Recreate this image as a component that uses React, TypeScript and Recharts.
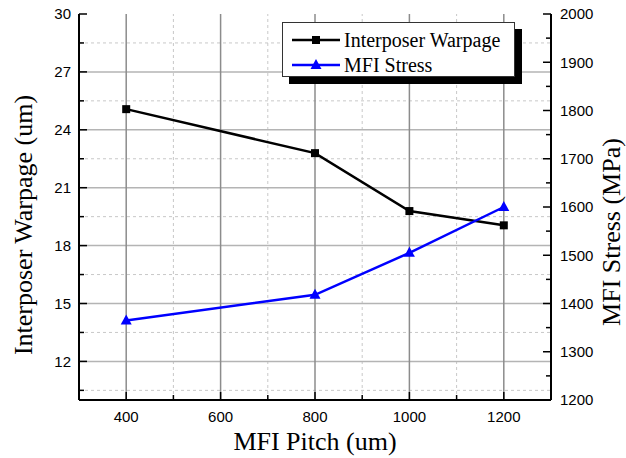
import React from 'react';
import {
    LineChart,
    Line,
    XAxis,
    YAxis,
    ReferenceLine,
    Legend,
    Customized,
} from 'recharts';

// MFI pitch (um) and the two measured series
const pitch = [400, 800, 1000, 1200];
const warpage = [25.07, 22.79, 19.79, 19.05];
const stress = [1365, 1418, 1505, 1600];

// Tick positions (major + minor)
const xTicks = [400, 500, 600, 700, 800, 900, 1000, 1100, 1200];
const xMajor = [400, 600, 800, 1000, 1200];
const xMinor = [500, 700, 900, 1100];
const leftTicks = [10.5, 12, 13.5, 15, 16.5, 18, 19.5, 21, 22.5, 24, 25.5, 27, 28.5, 30];
const leftMajor = [12, 15, 18, 21, 24, 27];
const leftMinor = [10.5, 13.5, 16.5, 19.5, 22.5, 25.5, 28.5];
const rightTicks = [1250, 1300, 1350, 1400, 1450, 1500, 1550, 1600, 1650, 1700, 1750, 1800, 1850, 1900, 1950, 2000, 1200];

const SERIF = '"Liberation Serif", "Times New Roman", serif';
const SANS = '"Liberation Sans", Arial, sans-serif';
const TICK_FONT = { fontFamily: SANS, fontSize: 15, fill: '#000' };

const chartData = pitch.map((p, i) => ({ pitch: p, warpage: warpage[i], stress: stress[i] }));

const isMult = (v: number, step: number) => Math.abs(v / step - Math.round(v / step)) < 1e-6;

const BottomTick = (props: any) => {
    const { x, y, payload } = props;
    const major = isMult(payload.value, 200);
    return (
        <g>
            <line x1={x} y1={y} x2={x} y2={y - (major ? 8 : 5)} stroke="#000" strokeWidth={1.5} />
            {major && (
                <text x={x} y={y + 22} textAnchor="middle" {...TICK_FONT}>
                    {payload.value}
                </text>
            )}
        </g>
    );
};

const LeftTick = (props: any) => {
    const { x, y, payload } = props;
    const major = isMult(payload.value, 3);
    return (
        <g>
            <line x1={x} y1={y} x2={x + (major ? 8 : 5)} y2={y} stroke="#000" strokeWidth={1.5} />
            {major && (
                <text x={x - 8} y={y} dy="0.35em" textAnchor="end" {...TICK_FONT}>
                    {payload.value}
                </text>
            )}
        </g>
    );
};

const RightTick = (props: any) => {
    const { x, y, payload } = props;
    const major = isMult(payload.value, 100);
    return (
        <g>
            <line x1={x} y1={y} x2={x - (major ? 8 : 5)} y2={y} stroke="#000" strokeWidth={1.5} />
            {major && (
                <text x={x + 9} y={y} dy="0.35em" textAnchor="start" {...TICK_FONT}>
                    {payload.value}
                </text>
            )}
        </g>
    );
};

const SquareDot = (props: any) => {
    const { cx, cy } = props;
    if (cx == null || cy == null) return null;
    return <rect x={cx - 4} y={cy - 4} width={8} height={8} fill="#000" />;
};

const TriangleDot = (props: any) => {
    const { cx, cy } = props;
    if (cx == null || cy == null) return null;
    return <path d={`M${cx},${cy - 6} L${cx + 5.5},${cy + 4} L${cx - 5.5},${cy + 4} Z`} fill="#0000ff" />;
};

const LegendBox = () => (
    <div
        style={{
            width: 231,
            height: 53,
            background: '#fff',
            border: '1px solid #333',
            boxShadow: '7px 7px 0 #000',
            fontFamily: SERIF,
            fontSize: 20,
            color: '#000',
            position: 'relative',
        }}
    >
        {[
            { name: 'Interposer Warpage', color: '#000', marker: 'square' },
            { name: 'MFI Stress', color: '#0000ff', marker: 'triangle' },
        ].map((item, i) => (
            <div key={item.name} style={{ position: 'absolute', left: 9, top: 5 + i * 25, height: 24, display: 'flex', alignItems: 'center' }}>
                <svg width={52} height={24}>
                    <line x1={0} y1={12} x2={48} y2={12} stroke={item.color} strokeWidth={2.5} />
                    {item.marker === 'square' ? (
                        <rect x={20} y={8} width={8} height={8} fill={item.color} />
                    ) : (
                        <path d="M24,6 L29.5,16 L18.5,16 Z" fill={item.color} />
                    )}
                </svg>
                <span style={{ lineHeight: '24px' }}>{item.name}</span>
            </div>
        ))}
    </div>
);

const AxisTitles = () => (
    <g fontFamily={SERIF} fontSize={26} fill="#000">
        <text x={315} y={450} textAnchor="middle">MFI Pitch (um)</text>
        <text transform="translate(32,225) rotate(-90)" textAnchor="middle">Interposer Warpage (um)</text>
        <text transform="translate(620,232) rotate(-90)" textAnchor="middle">MFI Stress (MPa)</text>
    </g>
);

export default function App() {
    return (
        <div style={{ position: 'absolute', left: 0, top: 0, width: 626, height: 458, background: '#fff' }}>
            <LineChart
                width={626}
                height={458}
                data={chartData}
                margin={{ top: 14, right: 25, left: 29, bottom: 28 }}
            >
                <XAxis
                    xAxisId="top"
                    orientation="top"
                    type="number"
                    dataKey="pitch"
                    domain={[300, 1300]}
                    height={0}
                    tick={false}
                    tickLine={false}
                    axisLine={{ stroke: '#000', strokeWidth: 2 }}
                />
                <XAxis
                    type="number"
                    dataKey="pitch"
                    domain={[300, 1300]}
                    ticks={xTicks}
                    interval={0}
                    height={30}
                    tickSize={0}
                    tickMargin={0}
                    tickLine={false}
                    tick={<BottomTick />}
                    axisLine={{ stroke: '#000', strokeWidth: 2 }}
                />
                <YAxis
                    yAxisId="left"
                    type="number"
                    domain={[10, 30]}
                    ticks={leftTicks}
                    interval={0}
                    width={50}
                    tickSize={0}
                    tickMargin={0}
                    tickLine={false}
                    tick={<LeftTick />}
                    axisLine={{ stroke: '#000', strokeWidth: 2 }}
                />
                <YAxis
                    yAxisId="right"
                    orientation="right"
                    type="number"
                    domain={[1200, 2000]}
                    ticks={rightTicks}
                    interval={0}
                    width={50}
                    tickSize={0}
                    tickMargin={0}
                    tickLine={false}
                    tick={<RightTick />}
                    axisLine={{ stroke: '#000', strokeWidth: 2 }}
                />
                {xMinor.map((v) => (
                    <ReferenceLine key={`xm${v}`} x={v} yAxisId="left" stroke="#c8c8c8" strokeDasharray="3 3" strokeWidth={1} />
                ))}
                {leftMinor.map((v) => (
                    <ReferenceLine key={`ym${v}`} y={v} yAxisId="left" stroke="#c8c8c8" strokeDasharray="3 3" strokeWidth={1} />
                ))}
                {leftMajor.map((v) => (
                    <ReferenceLine key={`yM${v}`} y={v} yAxisId="left" stroke="#b4b4b4" strokeWidth={1.5} />
                ))}
                {xMajor.map((v) => (
                    <ReferenceLine key={`xM${v}`} x={v} yAxisId="left" stroke="#8c8c8c" strokeWidth={1.5} />
                ))}
                <Line
                    yAxisId="left"
                    dataKey="warpage"
                    name="Interposer Warpage"
                    type="linear"
                    stroke="#000"
                    strokeWidth={2.5}
                    dot={<SquareDot />}
                    activeDot={false}
                    isAnimationActive={false}
                />
                <Line
                    yAxisId="right"
                    dataKey="stress"
                    name="MFI Stress"
                    type="linear"
                    stroke="#0000ff"
                    strokeWidth={2.5}
                    dot={<TriangleDot />}
                    activeDot={false}
                    isAnimationActive={false}
                />
                <Legend
                    layout="horizontal"
                    verticalAlign="middle"
                    align="center"
                    content={<LegendBox />}
                    wrapperStyle={{ left: 282, top: 22, width: 240, height: 62 }}
                />
                <Customized component={<AxisTitles />} />
            </LineChart>
        </div>
    );
}
